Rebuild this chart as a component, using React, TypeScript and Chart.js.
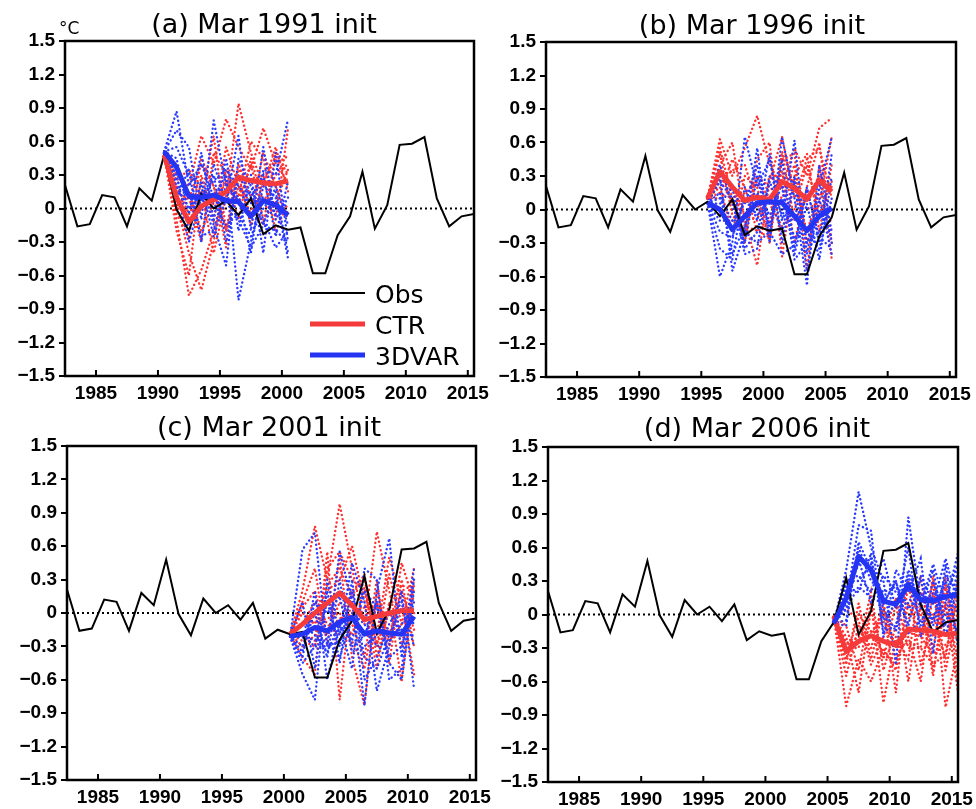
import React, { useEffect, useRef } from 'react';
import { Chart, registerables } from 'chart.js';

Chart.register(...registerables);

// ---------- data ----------
const years = [
  1982.5, 1983.5, 1984.5, 1985.5, 1986.5, 1987.5, 1988.5, 1989.5, 1990.5, 1991.5,
  1992.5, 1993.5, 1994.5, 1995.5, 1996.5, 1997.5, 1998.5, 1999.5, 2000.5, 2001.5,
  2002.5, 2003.5, 2004.5, 2005.5, 2006.5, 2007.5, 2008.5, 2009.5, 2010.5, 2011.5,
  2012.5, 2013.5, 2014.5, 2015.5,
];
const obs = [
  0.21, -0.16, -0.14, 0.12, 0.10, -0.16, 0.18, 0.07, 0.48, -0.01,
  -0.20, 0.13, 0.00, 0.07, -0.06, 0.09, -0.23, -0.15, -0.19, -0.17,
  -0.58, -0.58, -0.24, -0.07, 0.33, -0.18, 0.03, 0.57, 0.58, 0.64,
  0.09, -0.16, -0.07, -0.05,
];

const xTicks = [1985, 1990, 1995, 2000, 2005, 2010, 2015];
const yTicks = [-1.5, -1.2, -0.9, -0.6, -0.3, 0, 0.3, 0.6, 0.9, 1.2, 1.5];
const yTickLabels = ['\u22121.5', '\u22121.2', '\u22120.9', '\u22120.6', '\u22120.3', '0', '0.3', '0.6', '0.9', '1.2', '1.5'];
const legendLabels = ['Obs', 'CTR', '3DVAR'];
const titles = ['(a) Mar 1991 init', '(b) Mar 1996 init', '(c) Mar 2001 init', '(d) Mar 2006 init'];
const startIndex = [8, 13, 18, 23];

// Panel (a)
const ctrMeanA = [0.48, 0.10, -0.12, 0.02, 0.08, 0.15, 0.28, 0.25, 0.23, 0.22, 0.25];
const varMeanA = [0.51, 0.37, 0.11, 0.10, 0.12, 0.07, 0.06, -0.07, 0.07, 0.03, -0.06];
const ctrMembersA = [
  [0.48, 0.30, 0.20, 0.65, 0.40, 0.80, 0.55, 0.35, 0.72, 0.40, 0.47],
  [0.48, -0.10, -0.78, -0.55, -0.20, 0.10, 0.94, 0.50, 0.20, 0.55, 0.15],
  [0.48, 0.05, -0.40, -0.73, -0.30, 0.35, 0.10, 0.60, 0.45, -0.10, 0.72],
  [0.48, 0.25, 0.35, 0.10, 0.65, -0.20, 0.40, 0.10, -0.15, 0.50, 0.30],
  [0.48, -0.20, -0.60, 0.30, -0.10, 0.55, 0.20, -0.05, 0.50, 0.20, -0.10],
  [0.48, 0.40, 0.10, -0.30, 0.50, 0.30, -0.10, 0.45, 0.05, 0.30, 0.40],
  [0.48, -0.05, -0.25, 0.45, 0.20, -0.35, 0.35, 0.25, 0.30, -0.20, 0.05],
  [0.48, 0.20, -0.05, 0.15, -0.40, 0.10, 0.30, -0.15, 0.25, 0.45, 0.20],
  [0.48, 0.00, 0.15, -0.20, 0.05, 0.25, 0.05, 0.40, -0.10, 0.05, 0.35],
  [0.48, 0.15, 0.08, 0.40, 0.20, -0.20, 0.20, 0.05, 0.08, 0.05, -0.04],
];
const varMembersA = [
  [0.51, 0.87, 0.20, 0.40, 0.10, 0.30, -0.82, -0.30, 0.20, 0.10, -0.45],
  [0.51, 0.70, 0.55, -0.10, 0.79, 0.20, 0.10, -0.40, 0.35, 0.30, 0.80],
  [0.51, 0.30, -0.20, 0.25, -0.15, -0.51, 0.45, 0.20, -0.10, -0.35, -0.20],
  [0.51, 0.10, 0.35, -0.30, 0.40, 0.05, 0.65, -0.20, 0.55, -0.10, 0.10],
  [0.51, 0.45, -0.05, 0.50, -0.10, 0.45, -0.20, 0.30, -0.40, 0.50, -0.30],
  [0.51, 0.25, 0.10, 0.05, 0.30, -0.30, 0.30, 0.10, 0.30, -0.25, 0.25],
  [0.51, 0.55, 0.30, 0.20, -0.25, 0.10, -0.10, -0.35, -0.15, 0.20, -0.15],
  [0.51, 0.15, -0.30, 0.10, 0.25, 0.35, 0.20, 0.05, 0.10, -0.05, 0.05],
  [0.51, 0.20, 0.00, 0.15, 0.05, -0.15, -0.05, -0.25, 0.00, 0.15, -0.40],
  [0.51, 0.13, 0.15, -0.25, -0.19, 0.21, 0.07, 0.15, -0.15, -0.20, -0.30],
];

// Panel (b)
const ctrMeanB = [0.10, 0.34, 0.20, 0.08, 0.11, 0.09, 0.25, 0.19, 0.09, 0.26, 0.16];
const varMeanB = [0.06, 0.00, -0.18, -0.06, 0.06, 0.07, 0.06, -0.06, -0.19, -0.06, 0.01];
const ctrMembersB = [
  [0.10, 0.63, 0.30, 0.55, 0.84, 0.40, 0.20, 0.55, 0.30, 0.73, 0.82],
  [0.10, 0.40, 0.60, -0.10, -0.50, 0.25, 0.65, 0.10, 0.45, 0.55, 0.10],
  [0.10, 0.20, -0.20, 0.30, 0.20, -0.30, 0.45, 0.50, -0.55, 0.40, -0.45],
  [0.10, 0.55, 0.10, -0.30, 0.45, 0.60, -0.42, 0.30, 0.50, -0.20, 0.40],
  [0.10, 0.15, 0.45, 0.20, -0.20, -0.10, 0.35, -0.30, 0.20, 0.60, -0.30],
  [0.10, 0.50, -0.05, -0.20, 0.30, 0.20, 0.10, 0.40, -0.30, 0.05, 0.65],
  [0.10, 0.25, 0.35, 0.40, 0.05, -0.25, 0.50, -0.10, 0.10, 0.30, 0.20],
  [0.10, 0.10, 0.20, -0.05, -0.10, 0.30, 0.30, 0.25, -0.20, 0.15, 0.05],
  [0.10, 0.35, 0.05, 0.15, 0.25, 0.05, -0.15, 0.00, 0.40, -0.05, 0.25],
  [0.10, 0.27, 0.20, -0.15, -0.19, -0.25, 0.52, 0.20, 0.00, 0.07, -0.12],
];
const varMembersB = [
  [0.06, -0.60, -0.30, 0.65, 0.20, 0.45, -0.10, 0.62, -0.40, 0.20, 0.65],
  [0.06, 0.30, -0.55, -0.20, 0.55, -0.30, 0.65, 0.10, -0.68, 0.40, -0.20],
  [0.06, 0.25, 0.10, -0.40, -0.35, 0.30, 0.20, -0.40, 0.05, -0.45, 0.30],
  [0.06, -0.35, -0.45, 0.20, -0.10, 0.50, -0.30, 0.25, -0.55, 0.10, -0.40],
  [0.06, 0.40, 0.05, -0.30, 0.30, -0.20, 0.45, -0.35, 0.20, -0.30, 0.50],
  [0.06, -0.20, -0.25, 0.10, -0.05, 0.10, -0.20, 0.30, -0.30, 0.00, -0.25],
  [0.06, 0.15, -0.40, -0.15, 0.15, -0.05, 0.10, -0.25, -0.20, -0.35, 0.10],
  [0.06, 0.05, 0.20, -0.35, -0.20, 0.25, -0.05, -0.10, 0.10, 0.25, -0.30],
  [0.06, -0.10, -0.10, 0.05, 0.40, -0.15, 0.25, -0.45, -0.30, -0.20, 0.05],
  [0.06, 0.10, -0.10, -0.20, -0.30, -0.20, -0.40, -0.32, 0.18, -0.25, -0.35],
];

// Panel (c)
const ctrMeanC = [-0.19, -0.10, 0.00, 0.09, 0.18, 0.07, -0.06, -0.03, 0.00, 0.02, 0.02];
const varMeanC = [-0.21, -0.19, -0.13, -0.16, -0.08, -0.04, -0.19, -0.16, -0.18, -0.19, -0.03];
const ctrMembersC = [
  [-0.19, 0.20, 0.78, 0.30, 0.98, 0.40, -0.10, 0.73, 0.20, -0.30, 0.30],
  [-0.19, -0.40, -0.55, 0.55, -0.78, 0.20, 0.30, -0.20, 0.50, 0.10, -0.55],
  [-0.19, 0.10, 0.40, -0.30, 0.50, -0.40, -0.83, 0.20, -0.30, 0.45, 0.10],
  [-0.19, -0.30, -0.20, 0.20, 0.30, 0.60, 0.10, -0.50, 0.10, -0.62, 0.25],
  [-0.19, 0.05, 0.20, -0.20, 0.10, -0.10, -0.40, 0.30, -0.45, 0.30, -0.30],
  [-0.19, -0.25, -0.30, 0.40, 0.55, 0.30, 0.20, -0.30, 0.35, -0.10, 0.40],
  [-0.19, -0.10, 0.10, -0.10, -0.20, -0.25, -0.50, 0.10, -0.20, 0.20, -0.15],
  [-0.19, 0.00, -0.10, 0.25, 0.40, 0.15, 0.35, -0.40, 0.05, 0.25, 0.20],
  [-0.19, -0.20, -0.25, -0.15, -0.05, 0.00, 0.05, 0.05, -0.25, -0.10, 0.00],
  [-0.19, -0.10, -0.08, -0.05, 0.00, -0.20, 0.23, -0.28, 0.00, 0.02, -0.05],
];
const varMembersC = [
  [-0.21, 0.57, 0.72, -0.30, 0.55, 0.10, -0.83, 0.20, 0.67, -0.40, 0.40],
  [-0.21, -0.55, -0.78, 0.30, -0.20, 0.45, 0.10, -0.70, -0.30, 0.20, -0.68],
  [-0.21, -0.40, 0.20, -0.60, -0.10, -0.50, 0.40, 0.30, -0.60, -0.50, 0.30],
  [-0.21, 0.10, -0.50, 0.20, -0.45, 0.30, -0.60, -0.40, -0.10, 0.10, -0.30],
  [-0.21, -0.30, 0.00, -0.40, 0.30, -0.30, -0.20, 0.10, -0.45, -0.60, 0.20],
  [-0.21, -0.45, -0.30, 0.10, -0.30, 0.20, -0.40, -0.50, -0.20, 0.05, -0.10],
  [-0.21, -0.10, -0.20, -0.35, -0.10, -0.25, 0.20, 0.05, -0.40, -0.30, 0.10],
  [-0.21, -0.35, 0.10, 0.00, 0.15, -0.35, -0.30, -0.20, 0.00, -0.20, -0.20],
  [-0.21, -0.20, -0.30, -0.30, -0.25, 0.00, -0.10, -0.30, -0.25, -0.10, 0.05],
  [-0.21, -0.22, -0.24, -0.25, -0.40, -0.05, -0.17, -0.15, -0.17, -0.15, -0.07],
];

// Panel (d)
const ctrMeanD = [-0.02, -0.33, -0.24, -0.19, -0.24, -0.27, -0.13, -0.14, -0.15, -0.18, -0.17];
const varMeanD = [-0.08, 0.15, 0.52, 0.40, 0.12, 0.09, 0.26, 0.13, 0.12, 0.16, 0.18];
const ctrMembersD = [
  [-0.02, -0.82, -0.40, -0.60, -0.30, -0.50, 0.10, -0.20, 0.30, -0.83, -0.30],
  [-0.02, -0.10, -0.50, 0.10, -0.79, -0.20, -0.40, 0.35, -0.50, 0.10, -0.70],
  [-0.02, -0.45, 0.10, -0.40, 0.05, -0.70, 0.30, -0.45, 0.00, -0.40, 0.35],
  [-0.02, -0.20, -0.70, 0.05, -0.40, 0.10, -0.60, 0.10, -0.55, 0.25, -0.20],
  [-0.02, -0.55, -0.10, -0.30, 0.10, -0.40, -0.20, -0.60, 0.20, -0.20, 0.10],
  [-0.02, -0.30, -0.30, 0.20, -0.50, -0.10, 0.25, 0.00, -0.30, 0.30, -0.60],
  [-0.02, 0.05, -0.05, -0.45, -0.20, 0.15, -0.30, -0.30, 0.35, -0.50, 0.05],
  [-0.02, -0.40, 0.00, -0.15, -0.35, -0.45, -0.05, 0.20, -0.20, 0.10, -0.40],
  [-0.02, -0.25, -0.25, -0.20, 0.05, -0.30, -0.25, -0.30, -0.45, -0.35, 0.20],
  [-0.02, -0.28, -0.20, -0.15, -0.06, -0.30, -0.15, -0.20, -0.35, -0.27, -0.20],
];
const varMembersD = [
  [-0.08, 0.40, 1.10, 0.60, 0.30, -0.45, 0.87, 0.10, 0.45, 0.10, 0.55],
  [-0.08, 0.10, 0.80, 0.75, -0.20, 0.40, 0.20, 0.50, -0.35, 0.45, -0.30],
  [-0.08, 0.30, 0.35, 0.20, 0.50, 0.05, 0.60, -0.20, 0.30, -0.10, 0.40],
  [-0.08, -0.10, 0.65, 0.40, 0.10, 0.30, -0.10, 0.35, 0.10, 0.50, 0.10],
  [-0.08, 0.25, 0.20, 0.55, -0.15, -0.10, 0.40, 0.05, 0.40, -0.20, 0.30],
  [-0.08, 0.05, 0.50, 0.10, 0.35, 0.20, 0.10, 0.30, -0.10, 0.30, 0.00],
  [-0.08, 0.30, 0.30, 0.45, 0.05, -0.15, 0.35, -0.10, 0.20, 0.15, 0.45],
  [-0.08, -0.05, 0.60, 0.30, 0.20, 0.25, 0.05, 0.20, -0.05, 0.35, 0.20],
  [-0.08, 0.20, 0.45, 0.50, -0.05, 0.10, 0.30, 0.15, 0.15, 0.05, 0.25],
  [-0.08, 0.05, 0.25, 0.15, 0.10, 0.30, -0.17, -0.05, 0.10, 0.00, -0.15],
];

// ---------- styling / layout ----------
const W = 976;
const H = 809;
const Y_AXIS_W = 60;
const X_AXIS_H = 27;
const RED = '#f43a3a';
const BLUE = '#2434f2';
const RED_DOT = '#ff3030';
const BLUE_DOT = '#2a3bff';

type Panel = {
  title: string;
  start: number;
  ctrMean: number[];
  varMean: number[];
  ctrMembers: number[][];
  varMembers: number[][];
  area: { l: number; t: number; r: number; b: number };
  titleX: number;
  titleY: number;
  legend: boolean;
  unit: boolean;
};

const panels: Panel[] = [
  { title: titles[0], start: startIndex[0], ctrMean: ctrMeanA, varMean: varMeanA, ctrMembers: ctrMembersA, varMembers: varMembersA,
    area: { l: 65, t: 41, r: 474, b: 376 }, titleX: 264, titleY: 33, legend: true, unit: true },
  { title: titles[1], start: startIndex[1], ctrMean: ctrMeanB, varMean: varMeanB, ctrMembers: ctrMembersB, varMembers: varMembersB,
    area: { l: 546, t: 42, r: 956, b: 377 }, titleX: 752, titleY: 34, legend: false, unit: false },
  { title: titles[2], start: startIndex[2], ctrMean: ctrMeanC, varMean: varMeanC, ctrMembers: ctrMembersC, varMembers: varMembersC,
    area: { l: 67, t: 446, r: 476, b: 780 }, titleX: 269, titleY: 436, legend: false, unit: false },
  { title: titles[3], start: startIndex[3], ctrMean: ctrMeanD, varMean: varMeanD, ctrMembers: ctrMembersD, varMembers: varMembersD,
    area: { l: 548, t: 447, r: 958, b: 782 }, titleX: 757, titleY: 437, legend: false, unit: false },
];

const toPts = (xs: number[], ys: number[]) => ys.map((y, i) => ({ x: xs[i], y }));

function buildConfig(p: Panel): any {
  const fy = years.slice(p.start, p.start + p.ctrMean.length);
  const xMin = years[0];
  const xMax = years[years.length - 1];
  const dotted = { borderWidth: 2.4, borderDash: [0.1, 4.2], borderCapStyle: 'round', pointRadius: 0 };
  const datasets: any[] = [];
  datasets.push({ label: '3DVAR', data: toPts(fy, p.varMean), borderColor: BLUE, borderWidth: 5, pointRadius: 0, borderJoinStyle: 'round' });
  datasets.push({ label: 'CTR', data: toPts(fy, p.ctrMean), borderColor: RED, borderWidth: 5, pointRadius: 0, borderJoinStyle: 'round' });
  datasets.push({ label: 'Obs', data: toPts(years, obs), borderColor: '#000', borderWidth: 2, pointRadius: 0 });
  p.varMembers.forEach((m) =>
    datasets.push({ label: '3DVAR member', data: toPts(fy, m), borderColor: BLUE_DOT, ...dotted })
  );
  p.ctrMembers.forEach((m) =>
    datasets.push({ label: 'CTR member', data: toPts(fy, m), borderColor: RED_DOT, ...dotted })
  );
  datasets.push({ label: 'zero', data: [{ x: xMin, y: 0 }, { x: xMax, y: 0 }], borderColor: '#000', borderWidth: 2, borderDash: [2, 3], pointRadius: 0 });

  const tickFont = { family: '"Liberation Sans", Arial, sans-serif', weight: 'bold', size: 19 };

  const decor = {
    id: 'decor' + p.title,
    afterDraw(chart: any) {
      const { ctx, chartArea } = chart;
      const { left, top, right, bottom } = chartArea;
      const xs = chart.scales.x;
      ctx.save();
      ctx.strokeStyle = '#000';
      ctx.lineWidth = 2.5;
      ctx.strokeRect(left, top, right - left, bottom - top);
      ctx.lineWidth = 2;
      xTicks.forEach((v) => {
        const px = xs.getPixelForValue(v);
        ctx.beginPath();
        ctx.moveTo(px, bottom);
        ctx.lineTo(px, bottom - 6);
        ctx.stroke();
      });
      ctx.fillStyle = '#000';
      ctx.textAlign = 'center';
      ctx.textBaseline = 'alphabetic';
      ctx.font = '27px "DejaVu Sans", sans-serif';
      ctx.fillText(p.title, p.titleX, p.titleY);
      if (p.unit) {
        ctx.textAlign = 'left';
        ctx.font = '17px "DejaVu Sans", sans-serif';
        ctx.fillText('\u00b0C', left - 6, top - 7);
      }
      if (p.legend) {
        const styles = [
          { c: '#000', w: 2 },
          { c: RED, w: 5 },
          { c: BLUE, w: 5 },
        ];
        const x0 = left + 245;
        const x1 = left + 300;
        const ys0 = [bottom - 83, bottom - 52, bottom - 21];
        ctx.font = '25px "DejaVu Sans", sans-serif';
        ctx.textAlign = 'left';
        legendLabels.forEach((lab, i) => {
          ctx.strokeStyle = styles[i].c;
          ctx.lineWidth = styles[i].w;
          ctx.beginPath();
          ctx.moveTo(x0, ys0[i]);
          ctx.lineTo(x1, ys0[i]);
          ctx.stroke();
          ctx.fillStyle = '#000';
          ctx.fillText(lab, x1 + 10, ys0[i] + 9.5);
        });
      }
      ctx.restore();
    },
  };

  return {
    type: 'line',
    data: { datasets },
    plugins: [decor],
    options: {
      responsive: false,
      maintainAspectRatio: false,
      animation: false,
      devicePixelRatio: 1,
      events: [],
      layout: {
        padding: {
          left: p.area.l - Y_AXIS_W,
          top: p.area.t,
          right: W - p.area.r,
          bottom: Math.max(0, H - p.area.b - X_AXIS_H),
        },
      },
      elements: { line: { tension: 0, fill: false } },
      plugins: { legend: { display: false }, tooltip: { enabled: false }, title: { display: false } },
      scales: {
        x: {
          type: 'linear',
          min: xMin,
          max: xMax,
          afterBuildTicks: (s: any) => {
            s.ticks = xTicks.map((v) => ({ value: v }));
          },
          afterFit: (s: any) => {
            s.height = Math.min(X_AXIS_H, H - p.area.b);
            s.paddingLeft = 0;
            s.paddingRight = 0;
          },
          grid: { display: false, drawTicks: false },
          border: { display: false },
          ticks: {
            autoSkip: false,
            maxRotation: 0,
            padding: 6,
            color: '#000',
            font: tickFont,
            callback: (v: any) => String(v),
          },
        },
        y: {
          type: 'linear',
          min: -1.5,
          max: 1.5,
          afterBuildTicks: (s: any) => {
            s.ticks = yTicks.map((v) => ({ value: v }));
          },
          afterFit: (s: any) => {
            s.width = Y_AXIS_W;
            s.paddingTop = 0;
            s.paddingBottom = 0;
          },
          grid: { display: true, drawOnChartArea: false, drawTicks: true, tickLength: 6, color: '#000', lineWidth: 2 },
          border: { display: false },
          ticks: {
            padding: 4,
            color: '#000',
            font: tickFont,
            callback: (_v: any, i: number) => yTickLabels[i],
          },
        },
      },
    },
  };
}

function PanelChart({ p }: { p: Panel }) {
  const ref = useRef<HTMLCanvasElement | null>(null);
  useEffect(() => {
    if (!ref.current) return;
    const chart = new Chart(ref.current, buildConfig(p));
    return () => chart.destroy();
  }, [p]);
  return (
    <canvas
      ref={ref}
      width={W}
      height={H}
      style={{ position: 'absolute', left: 0, top: 0, width: W, height: H }}
    />
  );
}

export default function App() {
  return (
    <div style={{ position: 'absolute', left: 0, top: 0, width: W, height: H, background: '#fff', overflow: 'hidden' }}>
      {panels.map((p) => (
        <PanelChart key={p.title} p={p} />
      ))}
    </div>
  );
}
